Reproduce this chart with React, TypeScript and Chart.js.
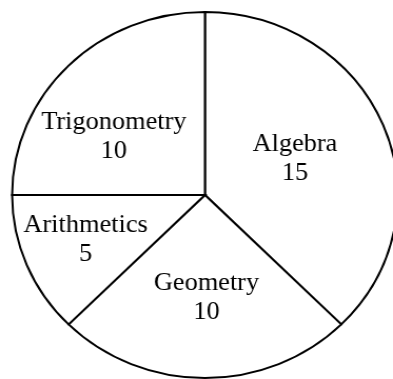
import React, { useEffect, useRef } from "react";
import { Chart, registerables } from "chart.js";

Chart.register(...registerables);

const categories = ["Algebra", "Geometry", "Arithmetics", "Trigonometry"];
const values = [15, 10, 5, 10];

// label anchor offsets (fraction of radius, relative to pie centre) – layout only
const labelAnchors: [number, number][] = [
  [0.467, -0.24],
  [0.008, 0.519],
  [-0.619, 0.202],
  [-0.472, -0.361],
];

export default function App() {
  const ref = useRef<HTMLCanvasElement>(null);
  useEffect(() => {
    document.body.style.margin = "0";
    const canvas = ref.current!;
    const labelPlugin = {
      id: "sliceLabels",
      afterDatasetsDraw(chart: any) {
        const meta = chart.getDatasetMeta(0);
        const ctx = chart.ctx as CanvasRenderingContext2D;
        ctx.save();
        ctx.font = "25px 'Liberation Serif', 'Times New Roman', serif";
        ctx.fillStyle = "#000";
        ctx.textAlign = "center";
        ctx.textBaseline = "alphabetic";
        meta.data.forEach((arc: any, i: number) => {
          const { x, y, outerRadius } = arc.getProps(["x", "y", "outerRadius"], true);
          const [fx, fy] = labelAnchors[i];
          const lx = x + fx * outerRadius;
          const ly = y + fy * outerRadius;
          ctx.fillText(categories[i], lx, ly);
          ctx.fillText(String(values[i]), lx, ly + 29);
        });
        ctx.restore();
      },
    };
    const chart = new Chart(canvas, {
      type: "pie",
      data: {
        labels: categories,
        datasets: [
          {
            data: values,
            backgroundColor: "#ffffff",
            borderColor: "#000000",
            borderWidth: 2,
            borderJoinStyle: "miter",
          } as any,
        ],
      },
      options: {
        responsive: false,
        animation: false,
        radius: 183,
        layout: { padding: { left: 17, right: 1, top: 12, bottom: 1 } },
        plugins: { legend: { display: false }, tooltip: { enabled: false } },
      } as any,
      plugins: [labelPlugin],
    });
    return () => chart.destroy();
  }, []);
  return (
    <div style={{ position: "fixed", left: 0, top: 0, width: 393, height: 379, background: "#fff", overflow: "hidden" }}>
      <canvas ref={ref} width={373} height={379} style={{ width: "393px", height: "379px", display: "block" }} />
    </div>
  );
}
